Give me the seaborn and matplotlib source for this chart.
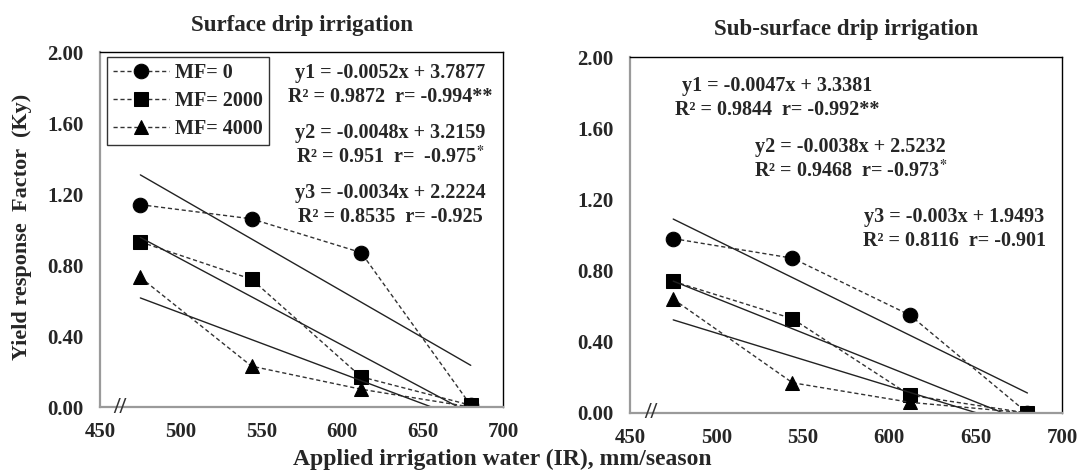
import matplotlib
matplotlib.use("Agg")
import matplotlib.pyplot as plt
import seaborn as sns
import pandas as pd
import numpy as np

# ---- data ----
ir_water = [475, 544, 612, 680]
mf_labels = ["MF= 0", "MF= 2000", "MF= 4000"]
surface_mf0 = [1.14, 1.06, 0.87, 0.01]
surface_mf2000 = [0.93, 0.72, 0.17, 0.01]
surface_mf4000 = [0.73, 0.23, 0.10, 0.00]
subsurface_mf0 = [0.98, 0.87, 0.55, 0.00]
subsurface_mf2000 = [0.74, 0.53, 0.10, 0.00]
subsurface_mf4000 = [0.64, 0.17, 0.06, 0.00]
panel_titles = ["Surface drip irrigation", "Sub-surface drip irrigation"]
x_ticks = [450, 500, 550, 600, 650, 700]
y_ticks = [0.0, 0.4, 0.8, 1.2, 1.6, 2.0]
surface_eqs = [
    ("y1 = -0.0052x + 3.7877", "R² = 0.9872  r= -0.994**"),
    ("y2 = -0.0048x + 3.2159", "R² = 0.951  r=  -0.975$^{*}$"),
    ("y3 = -0.0034x + 2.2224", "R² = 0.8535  r= -0.925"),
]
subsurface_eqs = [
    ("y1 = -0.0047x + 3.3381", "R² = 0.9844  r= -0.992**"),
    ("y2 = -0.0038x + 2.5232", "R² = 0.9468  r= -0.973$^{*}$"),
    ("y3 = -0.003x + 1.9493", "R² = 0.8116  r= -0.901"),
]

sns.set_style("white")
plt.rcParams["font.family"] = ["Liberation Serif", "DejaVu Serif"]
plt.rcParams["font.weight"] = "bold"
plt.rcParams["mathtext.fontset"] = "stix"

fig = plt.figure(figsize=(10.84, 4.72), dpi=100)
ax1 = fig.add_axes([0.0923, 0.1377, 0.3717, 0.7521])
ax2 = fig.add_axes([0.5812, 0.125, 0.3985, 0.754])

markers = ["o", "s", "^"]
msizes = [10.5, 10.5, 10.5]

TICK_FS = 15
EQ_FS = 14.5

def draw(ax, series, title, eqs, eq_pos, title_pad):
    for lab, vals, m, ms in zip(mf_labels, series, markers, msizes):
        df = pd.DataFrame({"x": ir_water, "y": vals})
        sns.lineplot(data=df, x="x", y="y", ax=ax, color="black", marker=m,
                     markersize=ms, linestyle=(0, (3, 2)), linewidth=1.0,
                     label=lab, markeredgecolor="black")
        ax.lines[-1].set_color("#333333")
        ax.lines[-1].set_markerfacecolor("black")
        ax.lines[-1].set_markeredgecolor("black")
        sns.regplot(data=df, x="x", y="y", ax=ax, scatter=False, ci=None,
                    truncate=True, line_kws=dict(color="#222222", lw=1.0))
    ax.set_xlim(450, 700)
    ax.set_ylim(0, 2.0)
    ax.set_xticks(x_ticks)
    ax.set_yticks(y_ticks)
    ax.set_yticklabels([f"{v:.2f}" for v in y_ticks], fontsize=TICK_FS, fontweight="bold")
    ax.set_xticklabels([str(v) for v in x_ticks], fontsize=TICK_FS, fontweight="bold")
    ax.set_xlabel("")
    ax.set_ylabel("")
    ax.tick_params(axis="both", direction="out", length=3, width=0.8, color="#999999")
    ax.tick_params(axis="y", pad=9)
    ax.tick_params(axis="x", pad=8)
    for s in ["left", "bottom"]:
        ax.spines[s].set_color("#9a9a9a")
        ax.spines[s].set_linewidth(1.6)
    for s in ["top", "right"]:
        ax.spines[s].set_color("black")
        ax.spines[s].set_linewidth(1.0)
    ax.set_title(title, fontsize=16.5, fontweight="bold", pad=title_pad)
    for (l1, l2), (x, y) in zip(eqs, eq_pos):
        ax.text(x, y, l1, transform=ax.transAxes, ha="center", va="center",
                fontsize=EQ_FS, fontweight="bold")
        ax.text(x, y - 0.068, l2, transform=ax.transAxes, ha="center", va="center",
                fontsize=EQ_FS, fontweight="bold")
    ax.text(462, 0.0, "//", ha="center", va="center", fontsize=17,
            fontweight="bold", color="#333333", clip_on=False)

draw(ax1, [surface_mf0, surface_mf2000, surface_mf4000], panel_titles[0],
     surface_eqs, [(0.72, 0.942), (0.72, 0.773), (0.72, 0.604)], 15)
draw(ax2, [subsurface_mf0, subsurface_mf2000, subsurface_mf4000], panel_titles[1],
     subsurface_eqs, [(0.34, 0.918), (0.51, 0.747), (0.75, 0.55)], 16)

leg = ax1.legend(loc="upper left", bbox_to_anchor=(0.017, 0.986), frameon=True,
                 fancybox=False, edgecolor="black", handlelength=2.8,
                 borderaxespad=0.0, borderpad=0.3, labelspacing=0.4,
                 handletextpad=0.3, prop={"weight": "bold", "size": 14.5})
leg.get_frame().set_linewidth(1.0)
if ax2.get_legend():
    ax2.get_legend().remove()

fig.text(0.02, 0.52, "Yield response  Factor  (Ky)", rotation=90, ha="center",
         va="center", fontsize=16, fontweight="bold")
fig.text(0.463, 0.027, "Applied irrigation water (IR), mm/season", ha="center",
         va="center", fontsize=17, fontweight="bold")

fig.savefig("out.png", dpi=100)
